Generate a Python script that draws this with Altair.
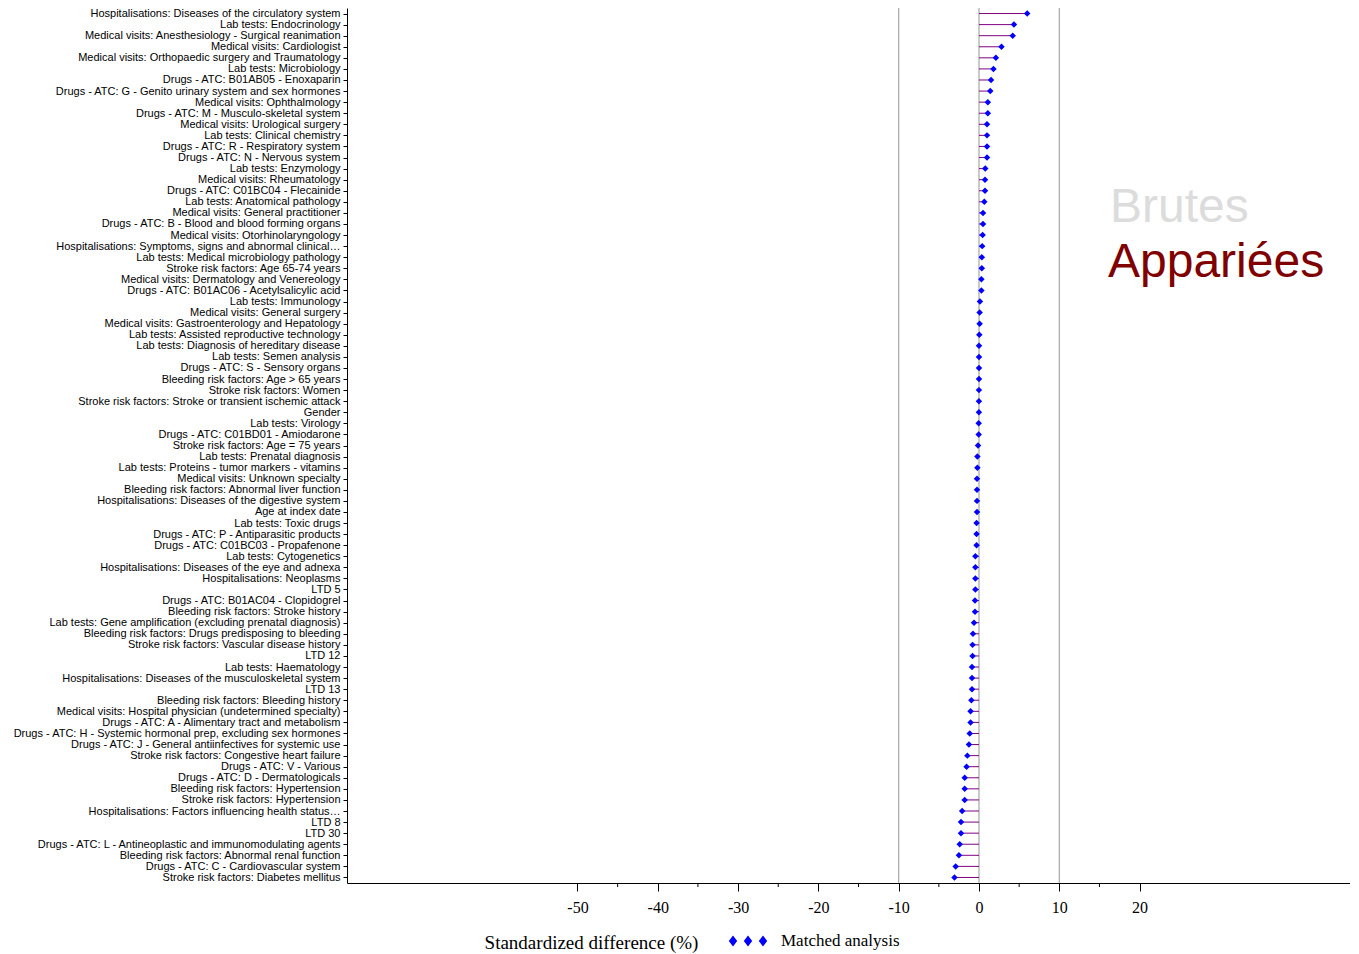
import altair as alt
import pandas as pd

labels = [
    "Hospitalisations: Diseases of the circulatory system",
    "Lab tests: Endocrinology",
    "Medical visits: Anesthesiology - Surgical reanimation",
    "Medical visits: Cardiologist",
    "Medical visits: Orthopaedic surgery and Traumatology",
    "Lab tests: Microbiology",
    "Drugs - ATC: B01AB05 - Enoxaparin ",
    "Drugs - ATC: G - Genito urinary system and sex hormones",
    "Medical visits: Ophthalmology",
    "Drugs - ATC: M - Musculo-skeletal system",
    "Medical visits: Urological surgery",
    "Lab tests: Clinical chemistry",
    "Drugs - ATC: R - Respiratory system",
    "Drugs - ATC: N - Nervous system",
    "Lab tests: Enzymology",
    "Medical visits: Rheumatology",
    "Drugs - ATC: C01BC04 - Flecainide ",
    "Lab tests: Anatomical pathology",
    "Medical visits: General practitioner",
    "Drugs - ATC: B - Blood and blood forming organs",
    "Medical visits: Otorhinolaryngology",
    "Hospitalisations: Symptoms, signs and abnormal clinical…",
    "Lab tests: Medical microbiology pathology",
    "Stroke risk factors: Age 65-74 years",
    "Medical visits: Dermatology and Venereology",
    "Drugs - ATC: B01AC06 - Acetylsalicylic acid",
    "Lab tests: Immunology",
    "Medical visits: General surgery",
    "Medical visits: Gastroenterology and Hepatology",
    "Lab tests: Assisted reproductive technology",
    "Lab tests: Diagnosis of hereditary disease",
    "Lab tests: Semen analysis",
    "Drugs - ATC: S - Sensory organs",
    "Bleeding risk factors: Age > 65 years",
    "Stroke risk factors: Women",
    "Stroke risk factors: Stroke or transient ischemic attack",
    "Gender",
    "Lab tests: Virology",
    "Drugs - ATC: C01BD01 - Amiodarone ",
    "Stroke risk factors: Age = 75 years",
    "Lab tests: Prenatal diagnosis",
    "Lab tests: Proteins - tumor markers - vitamins",
    "Medical visits: Unknown specialty",
    "Bleeding risk factors: Abnormal liver function",
    "Hospitalisations: Diseases of the digestive system",
    "Age at index date",
    "Lab tests: Toxic drugs",
    "Drugs - ATC: P - Antiparasitic products",
    "Drugs - ATC: C01BC03 - Propafenone ",
    "Lab tests: Cytogenetics",
    "Hospitalisations: Diseases of the eye and adnexa",
    "Hospitalisations: Neoplasms",
    "LTD 5",
    "Drugs - ATC: B01AC04 - Clopidogrel",
    "Bleeding risk factors: Stroke history",
    "Lab tests: Gene amplification (excluding prenatal diagnosis)",
    "Bleeding risk factors: Drugs predisposing to bleeding",
    "Stroke risk factors: Vascular disease history",
    "LTD 12",
    "Lab tests: Haematology",
    "Hospitalisations: Diseases of the musculoskeletal system",
    "LTD 13",
    "Bleeding risk factors: Bleeding history",
    "Medical visits: Hospital physician (undetermined specialty)",
    "Drugs - ATC: A - Alimentary tract and metabolism",
    "Drugs - ATC: H - Systemic hormonal prep, excluding sex hormones",
    "Drugs - ATC: J - General antiinfectives for systemic use",
    "Stroke risk factors: Congestive heart failure",
    "Drugs - ATC: V - Various",
    "Drugs - ATC: D - Dermatologicals",
    "Bleeding risk factors: Hypertension",
    "Stroke risk factors: Hypertension",
    "Hospitalisations: Factors influencing health status…",
    "LTD 8",
    "LTD 30",
    "Drugs - ATC: L - Antineoplastic and immunomodulating agents",
    "Bleeding risk factors: Abnormal renal function",
    "Drugs - ATC: C - Cardiovascular system",
    "Stroke risk factors: Diabetes mellitus",
]

values = [
    6.0, 4.35, 4.2, 2.8, 2.1, 1.8, 1.5, 1.4, 1.1, 1.1,
    1.0, 1.0, 1.0, 1.0, 0.78, 0.75, 0.75, 0.66, 0.5, 0.5,
    0.45, 0.4, 0.35, 0.35, 0.3, 0.3, 0.12, 0.08, 0.08, 0.04,
    0.0, 0.0, 0.0, 0.0, -0.01, -0.01, -0.01, -0.04, -0.04, -0.12,
    -0.2, -0.2, -0.25, -0.25, -0.25, -0.25, -0.3, -0.3, -0.3, -0.45,
    -0.45, -0.45, -0.45, -0.5, -0.5, -0.62, -0.75, -0.8, -0.8, -0.87,
    -0.87, -0.87, -0.95, -1.05, -1.05, -1.15, -1.25, -1.45, -1.55, -1.78,
    -1.78, -1.78, -2.1, -2.24, -2.24, -2.4, -2.5, -2.9, -3.05,
]

series_name = "Matched analysis"
major_ticks = [-50, -40, -30, -20, -10, 0, 10, 20]
minor_ticks = [-45, -35, -25, -15, -5, 5, 15]
reference_lines = [-10, 0, 10]
annotation_top = ["Brutes"]
annotation_bottom = ["Appariées"]

df = pd.DataFrame({"label": labels, "value": values, "series": series_name})
grid_df = pd.DataFrame({"v": reference_lines})
minor_df = pd.DataFrame({"v": minor_ticks})

x_scale = alt.Scale(domain=[-78.7, 46.2], nice=False, zero=False)
y_enc = alt.Y(
    "label:N",
    sort=labels,
    scale=alt.Scale(type="point", padding=0.5),
    axis=alt.Axis(
        title=None,
        labelLimit=600,
        labelFont="Liberation Sans",
        labelFontSize=11,
        labelColor="black",
        tickSize=4,
        tickColor="black",
        domainColor="black",
        labelPadding=3,
        grid=False,
    ),
)

diamonds3 = (
    "M-1,-0.36L-0.72,0L-1,0.36L-1.28,0Z"
    "M0,-0.36L0.28,0L0,0.36L-0.28,0Z"
    "M1,-0.36L1.28,0L1,0.36L0.72,0Z"
)

grid = alt.Chart(grid_df).mark_rule(color="#a6a6a6", strokeWidth=1.2).encode(
    x=alt.X("v:Q", scale=x_scale)
)

stems = alt.Chart(df).mark_rule(color="#800080", strokeWidth=1).encode(
    x=alt.X(
        "value:Q",
        scale=x_scale,
        axis=alt.Axis(
            values=major_ticks,
            labelExpr="'' + datum.value",
            labelFont="Liberation Serif",
            labelFontSize=16,
            labelColor="black",
            tickSize=8,
            tickColor="black",
            domainColor="black",
            labelPadding=8,
            grid=False,
            title="Standardized difference (%)",
            titleFont="Liberation Serif",
            titleFontSize=19,
            titleFontWeight="normal",
            titleColor="black",
            titleX=244,
            titleY=65,
            titleAlign="center",
            titleBaseline="alphabetic",
        ),
    ),
    x2=alt.datum(0),
    y=y_enc,
)

points = alt.Chart(df).mark_point(
    shape="diamond", filled=True, size=42, opacity=1
).encode(
    x=alt.X("value:Q", scale=x_scale),
    y=y_enc,
    color=alt.Color(
        "series:N",
        scale=alt.Scale(domain=[series_name], range=["#0000ff"]),
        legend=alt.Legend(
            title=None,
            orient="none",
            legendX=386,
            legendY=918,
            symbolType=diamonds3,
            symbolSize=900,
            symbolStrokeWidth=0,
            labelFont="Liberation Serif",
            labelFontSize=17,
            labelColor="black",
            labelOffset=18,
            padding=0,
        ),
    ),
)

minor = alt.Chart(minor_df).mark_rule(color="black", strokeWidth=1).encode(
    x=alt.X("v:Q", scale=x_scale),
    y=alt.value(875),
    y2=alt.value(879),
)

txt1 = alt.Chart(pd.DataFrame({"t": annotation_top})).mark_text(
    font="Liberation Sans", fontSize=48, color="#dcdcdc", align="left", baseline="alphabetic"
).encode(text="t:N", x=alt.value(763), y=alt.value(214))

txt2 = alt.Chart(pd.DataFrame({"t": annotation_bottom})).mark_text(
    font="Liberation Sans", fontSize=48, color="#800000", align="left", baseline="alphabetic"
).encode(text="t:N", x=alt.value(761), y=alt.value(269))

chart = (
    alt.layer(grid, stems, points, minor, txt1, txt2)
    .properties(
        width=1003,
        height=875,
        autosize=alt.AutoSizeParams(type="none"),
        padding={"left": 339, "top": 0, "right": 0, "bottom": 71},
    )
    .configure_view(stroke=None)
    .configure_axis(grid=False)
)

chart.save("out.html", embed_options={"renderer": "svg", "actions": False})
